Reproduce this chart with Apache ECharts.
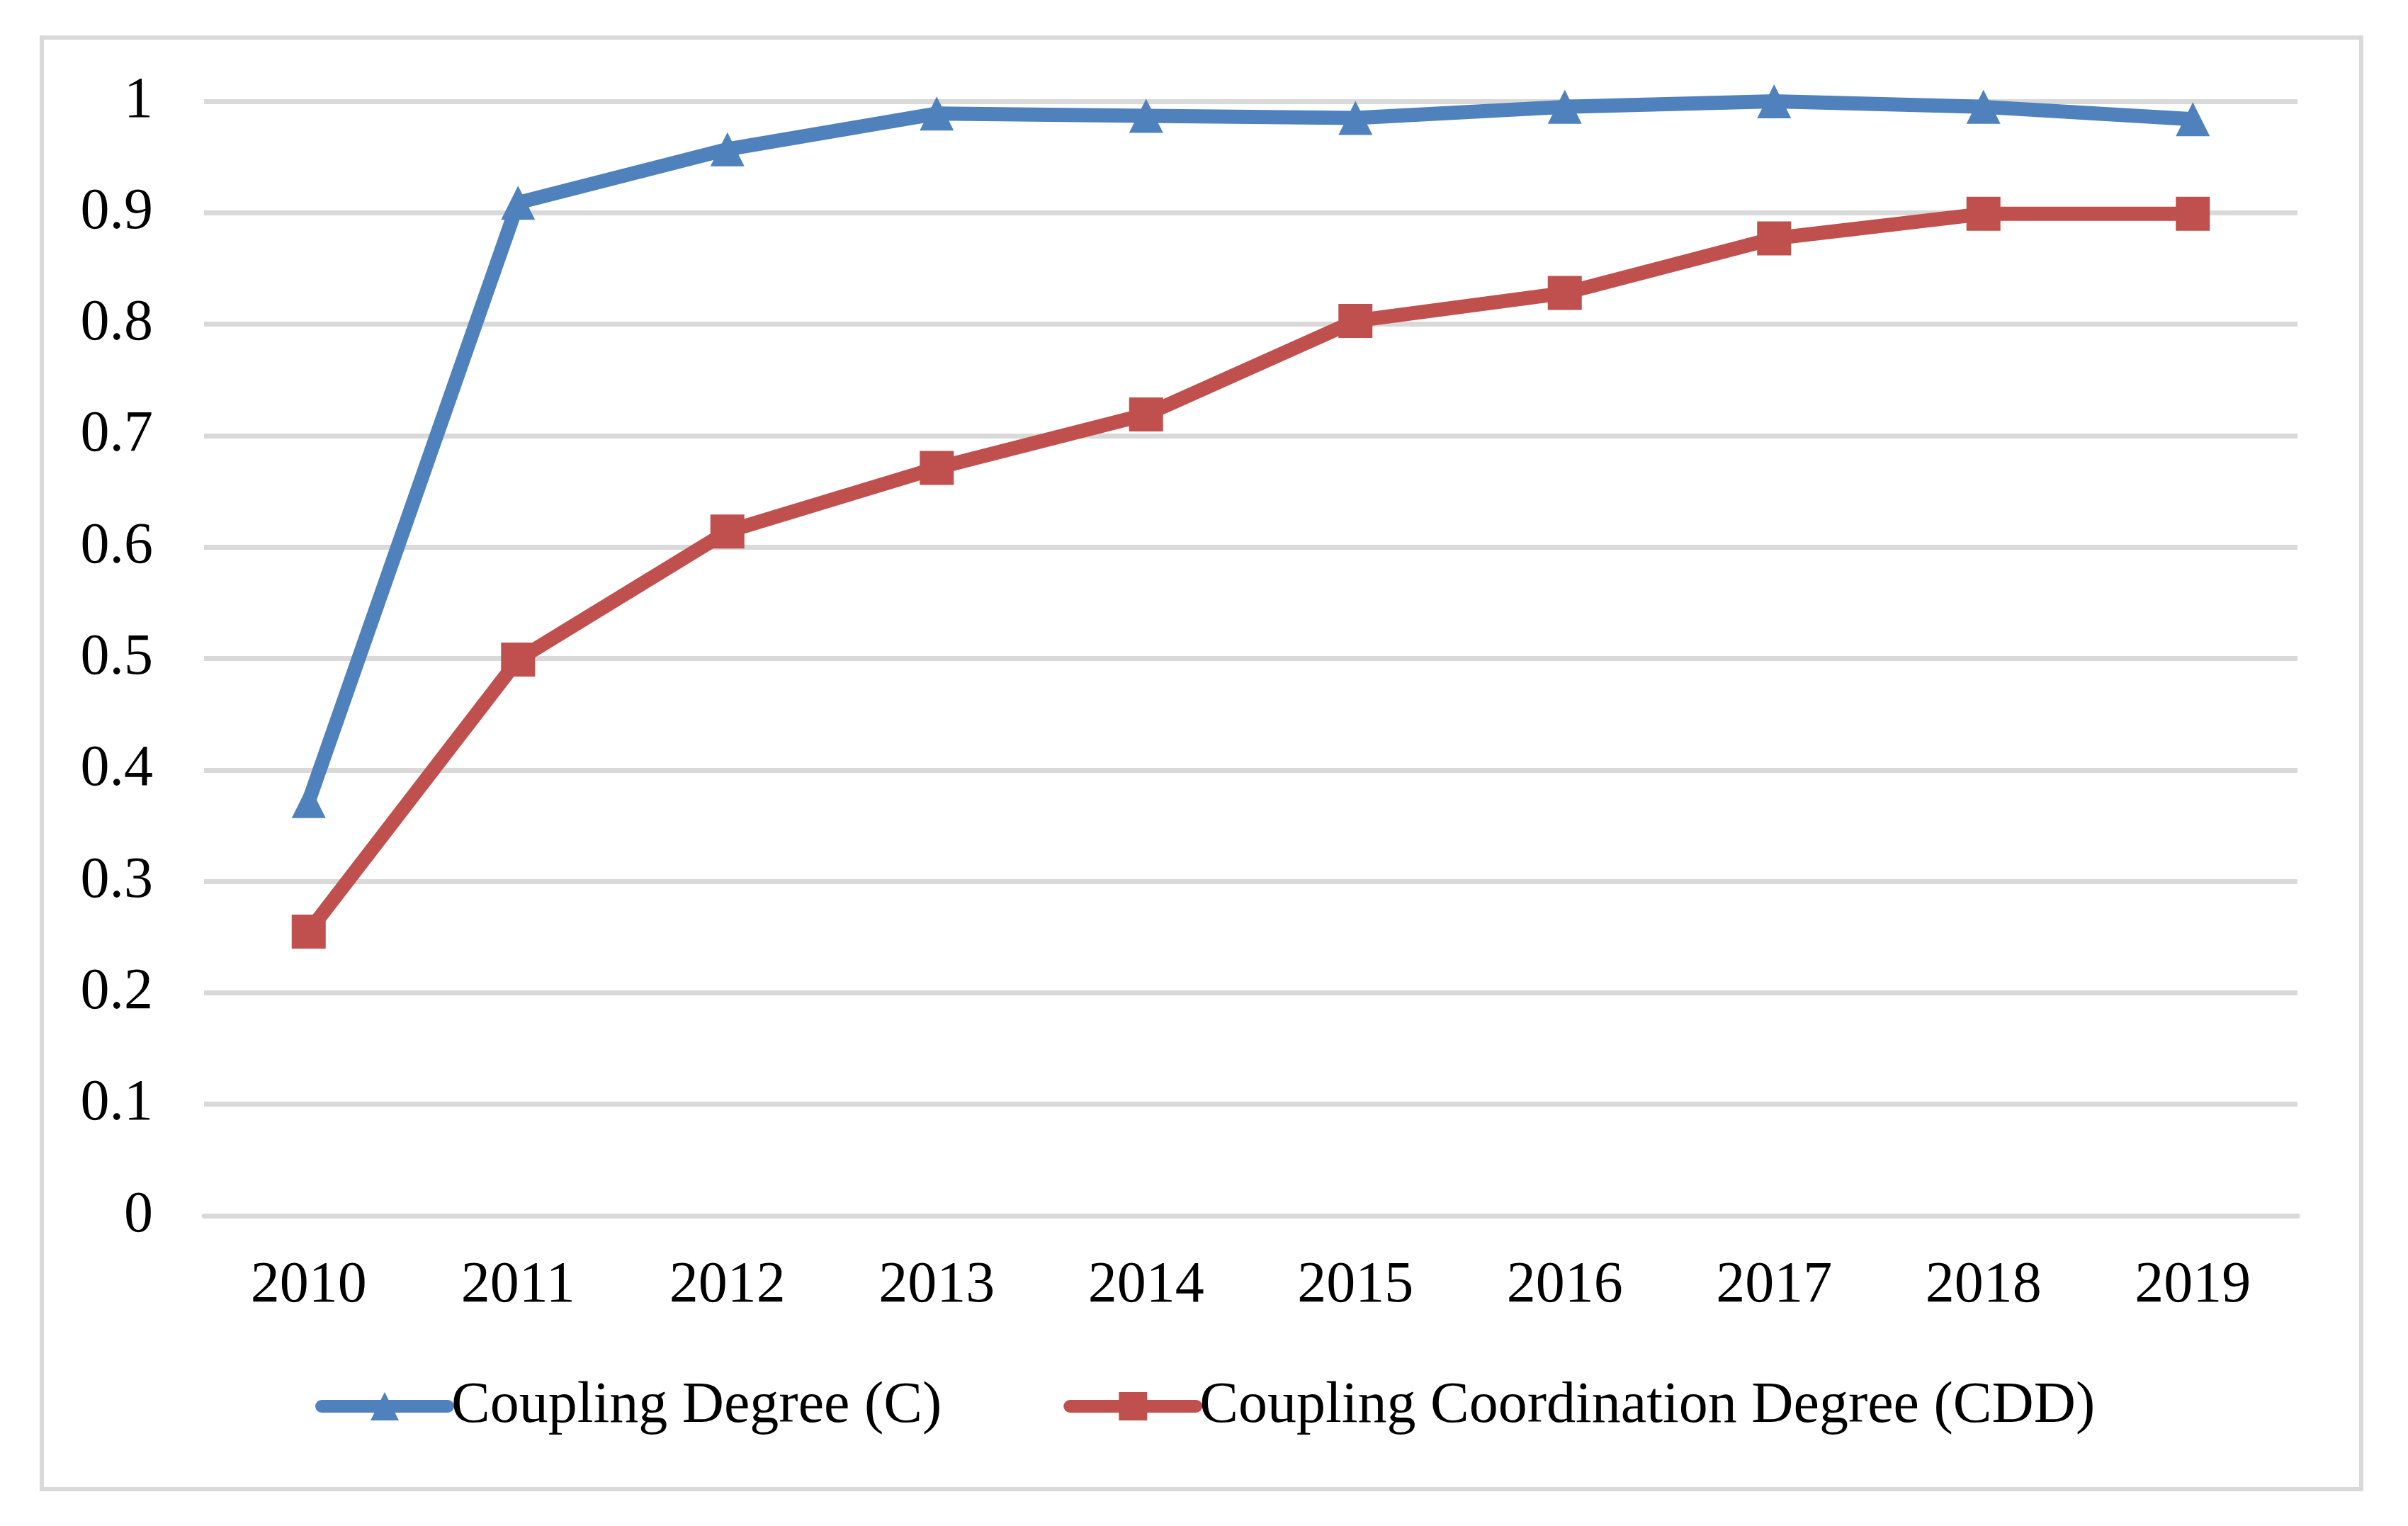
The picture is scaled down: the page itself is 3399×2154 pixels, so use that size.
<!DOCTYPE html>
<html>
<head>
<meta charset="utf-8">
<script src="https://cdn.jsdelivr.net/npm/echarts@6/dist/echarts.min.js"></script>
<style>
html,body{margin:0;padding:0;background:#fff;}
#chart{width:3399px;height:2154px;}
</style>
</head>
<body>
<div id="chart"></div>
<script>
const years = ['2010','2011','2012','2013','2014','2015','2016','2017','2018','2019'];
const couplingDegree = [0.372, 0.909, 0.957, 0.989, 0.987, 0.985, 0.995, 1.0, 0.995, 0.984];
const couplingCoordination = [0.255, 0.499, 0.614, 0.671, 0.719, 0.803, 0.828, 0.877, 0.899, 0.899];
const seriesNames = ['Coupling Degree (C)', 'Coupling Coordination Degree (CDD)'];

const chart = echarts.init(document.getElementById('chart'), null, {renderer: 'canvas'});
const font = '"Liberation Serif", "Times New Roman", serif';
chart.setOption({
  backgroundColor: '#ffffff',
  animation: false,
  graphic: [{
    type: 'rect',
    shape: {x: 59, y: 53, width: 3274, height: 2049},
    style: {fill: 'none', stroke: '#d9d9d9', lineWidth: 6},
    z: -1
  }],
  grid: {left: 288, right: 156, top: 143, bottom: 438, containLabel: false},
  legend: {
    left: 440,
    top: 1939,
    itemWidth: 178,
    itemHeight: 50,
    itemGap: 172,
    lineStyle: {width: 18, cap: 'round'},
    textStyle: {fontFamily: font, fontSize: 82, color: '#000'},
    data: seriesNames
  },
  xAxis: {
    type: 'category',
    data: years,
    boundaryGap: true,
    axisLine: {show: true, lineStyle: {color: '#d9d9d9', width: 7}},
    axisTick: {show: false},
    axisLabel: {fontFamily: font, fontSize: 82, color: '#000', margin: 58}
  },
  yAxis: {
    type: 'value',
    min: 0,
    max: 1,
    interval: 0.1,
    axisLine: {show: false},
    axisTick: {show: false},
    splitLine: {lineStyle: {color: '#d9d9d9', width: 7}},
    axisLabel: {fontFamily: font, fontSize: 82, color: '#000', margin: 72,
      formatter: v => String(Math.round(v * 10) / 10)}
  },
  series: [
    {
      name: seriesNames[0],
      type: 'line',
      data: couplingDegree,
      symbol: 'triangle',
      symbolSize: 48,
      itemStyle: {color: '#4f81bd'},
      lineStyle: {color: '#4f81bd', width: 20, cap: 'round', join: 'round'},
      z: 3
    },
    {
      name: seriesNames[1],
      type: 'line',
      data: couplingCoordination,
      symbol: 'rect',
      symbolSize: 48,
      itemStyle: {color: '#c0504d'},
      lineStyle: {color: '#c0504d', width: 20, cap: 'round', join: 'round'},
      z: 2
    }
  ]
});
</script>
</body>
</html>
